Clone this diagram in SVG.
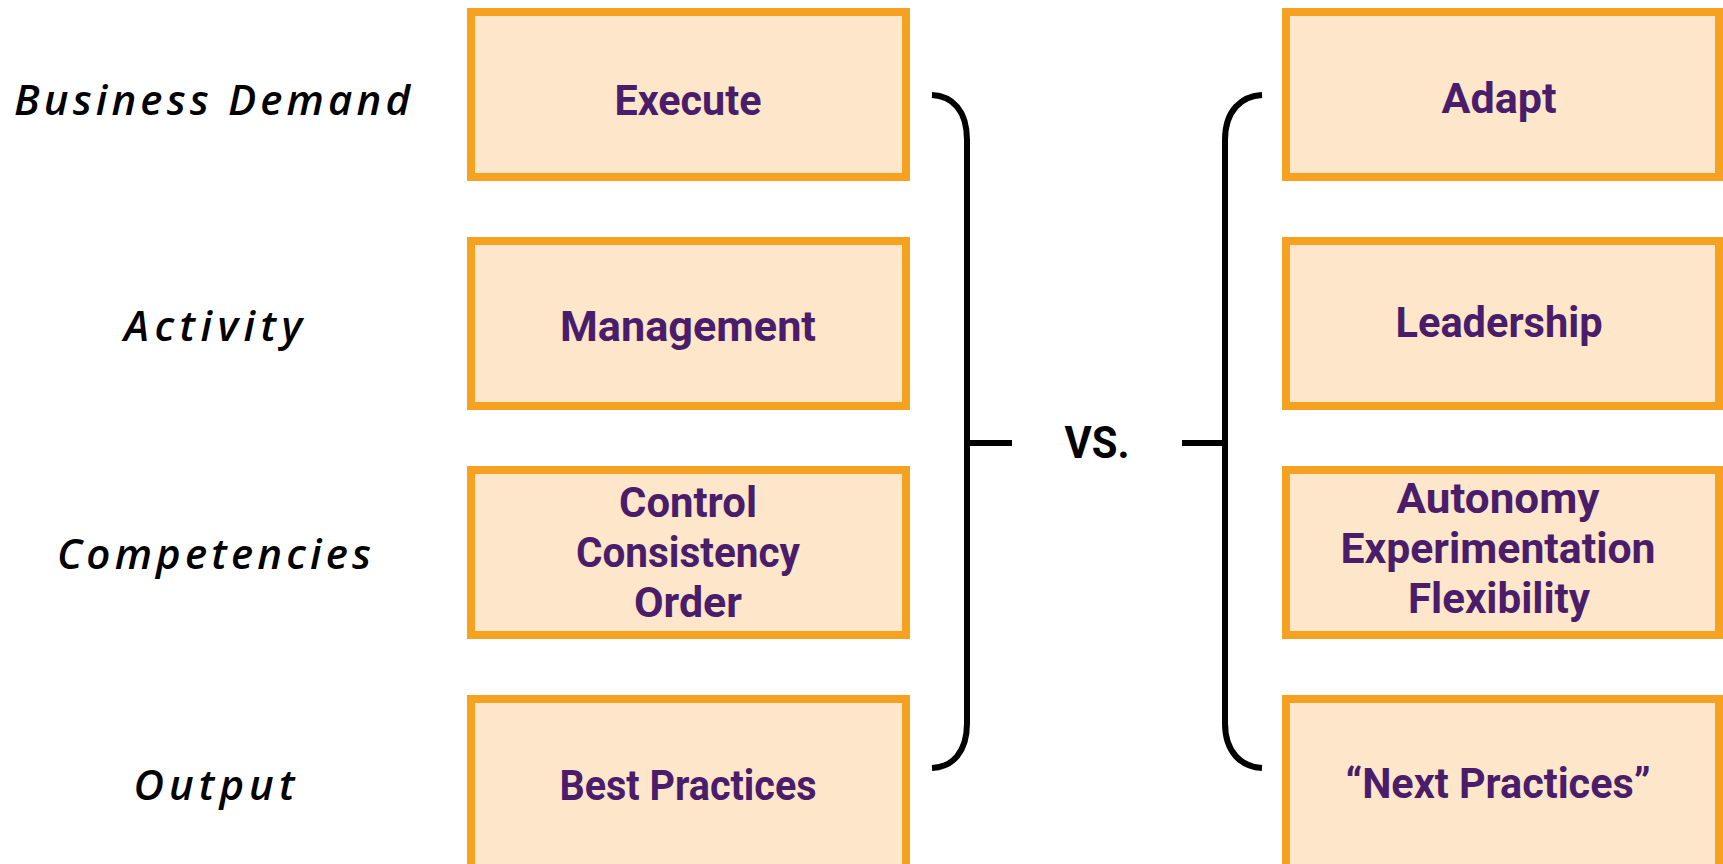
<svg xmlns="http://www.w3.org/2000/svg" width="1723" height="864" viewBox="0 0 1723 864">
<style>
.box{fill:#FDE6CA;stroke:#F6A11F;stroke-width:8}
.t{font-family:Roboto,"Liberation Sans",sans-serif;font-weight:bold;font-size:43px;fill:#4A1D6B;text-anchor:middle}
.lbl{font-family:"Open Sans","Liberation Sans",sans-serif;font-style:italic;font-weight:600;font-size:42px;fill:#000;text-anchor:middle}
.br{fill:none;stroke:#000;stroke-width:6}
.vs{font-family:Roboto,"Liberation Sans",sans-serif;font-weight:bold;font-size:44px;fill:#000;text-anchor:middle}
</style>
<rect width="1723" height="864" fill="#fff"/>
<g id="labels">
<text id="lbl-business" class="lbl" x="212" y="115" textLength="396" lengthAdjust="spacing">Business Demand</text>
<text id="lbl-activity" class="lbl" x="213" y="341" textLength="178" lengthAdjust="spacing">Activity</text>
<text id="lbl-competencies" class="lbl" x="214" y="569" textLength="314" lengthAdjust="spacing">Competencies</text>
<text id="lbl-output" class="lbl" x="214" y="800" textLength="161" lengthAdjust="spacing">Output</text>
</g>
<g id="execute"><rect class="box" x="471" y="12" width="435" height="165"/><text class="t" x="688" y="115" textLength="147" lengthAdjust="spacingAndGlyphs">Execute</text></g>
<g id="management"><rect class="box" x="471" y="241" width="435" height="165"/><text class="t" x="688" y="341" textLength="256" lengthAdjust="spacingAndGlyphs">Management</text></g>
<g id="control"><rect class="box" x="471" y="470" width="435" height="165"/>
<text class="t" x="688" y="517" textLength="138" lengthAdjust="spacingAndGlyphs">Control</text>
<text class="t" x="688" y="567" textLength="224" lengthAdjust="spacingAndGlyphs">Consistency</text>
<text class="t" x="688" y="617" textLength="108" lengthAdjust="spacingAndGlyphs">Order</text></g>
<g id="best-practices"><rect class="box" x="471" y="699" width="435" height="180"/><text class="t" x="688" y="800" textLength="257" lengthAdjust="spacingAndGlyphs">Best Practices</text></g>
<g id="adapt"><rect class="box" x="1286" y="12" width="433" height="165"/><text class="t" x="1499" y="113" textLength="115" lengthAdjust="spacingAndGlyphs">Adapt</text></g>
<g id="leadership"><rect class="box" x="1286" y="241" width="433" height="165"/><text class="t" x="1499" y="337" textLength="207" lengthAdjust="spacingAndGlyphs">Leadership</text></g>
<g id="autonomy"><rect class="box" x="1286" y="470" width="433" height="165"/>
<text class="t" x="1498" y="513" textLength="203" lengthAdjust="spacingAndGlyphs">Autonomy</text>
<text class="t" x="1498" y="563" textLength="315" lengthAdjust="spacingAndGlyphs">Experimentation</text>
<text class="t" x="1499" y="613" textLength="182" lengthAdjust="spacingAndGlyphs">Flexibility</text></g>
<g id="next-practices"><rect class="box" x="1286" y="699" width="433" height="180"/><text class="t" x="1498" y="798" textLength="305" lengthAdjust="spacingAndGlyphs">“Next Practices”</text></g>
<g id="connectors">
<path class="br" d="M932,95 C952,96 967,110 967,140 L967,723 C967,753 952,767 932,768 M967,443 H1012"/>
<path class="br" d="M1262,95 C1242,96 1225,110 1225,140 L1225,723 C1225,753 1242,767 1262,768 M1182,443 H1225"/>
</g>
<text id="vs" class="vs" x="1097" y="458" textLength="65" lengthAdjust="spacingAndGlyphs">VS.</text>
</svg>
